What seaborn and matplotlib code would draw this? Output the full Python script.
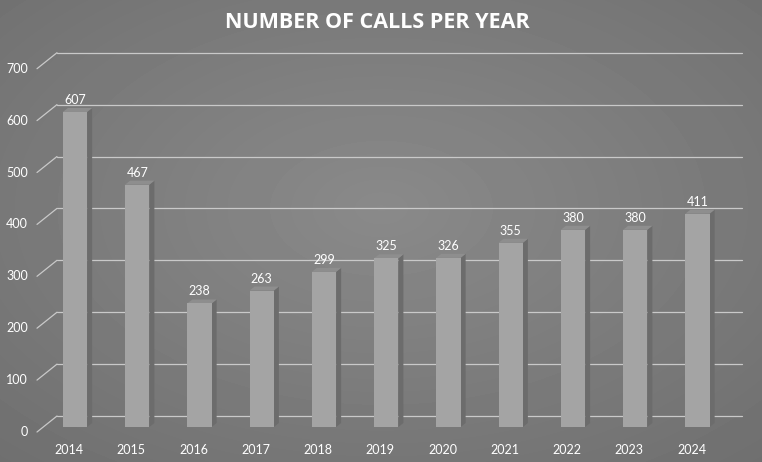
import numpy as np
import pandas as pd
import matplotlib.pyplot as plt
from matplotlib.patches import Polygon
import seaborn as sns

years = ['2014', '2015', '2016', '2017', '2018', '2019', '2020', '2021', '2022', '2023', '2024']
calls = [607, 467, 238, 263, 299, 325, 326, 355, 380, 380, 411]
yticks = [0, 100, 200, 300, 400, 500, 600, 700]
title = 'NUMBER OF CALLS PER YEAR'

sns.set_theme(style='white')
plt.rcParams['font.family'] = ['Lato', 'DejaVu Sans']

W, H = 762, 462
fig = plt.figure(figsize=(W / 100, H / 100), dpi=100)

# background gradient
bg = fig.add_axes([0, 0, 1, 1])
yy, xx = np.mgrid[0:H, 0:W]
r = np.sqrt(((xx - W * 0.5) / W) ** 2 + ((yy - H * 0.45) / H) ** 2)
bg.imshow(0.54 - 0.14 * r, cmap='gray', vmin=0, vmax=1, aspect='auto')
bg.axis('off')

ax = fig.add_axes([0, 0, 1, 1])
ax.patch.set_alpha(0)

# pixel mapping: front plane zero at y=427px, 0.519 px per unit; bar i center at 75 + 62.25*i
ppu = 0.519
sx = 62.25
xlim = (-75 / sx, (W - 75) / sx)
ylim = ((427 - H) / ppu, 427 / ppu)

wall_dy = 11 / ppu
wall_x0 = (57 - 75) / sx
wall_x1 = (742 - 75) / sx
grid_c = '#c9c9c9'
for v in yticks:
    ax.plot([wall_x0, wall_x1], [v + wall_dy, v + wall_dy], color=grid_c, lw=0.9, zorder=1)
    ax.plot([(37 - 75) / sx, wall_x0], [v - 5 / ppu, v + wall_dy], color=grid_c, lw=0.9, zorder=1)
    ax.text((28 - 75) / sx, v - 5 / ppu, str(v), ha='right', va='center',
            color='white', fontsize=9)

df = pd.DataFrame({'year': years, 'calls': calls})
sns.barplot(data=df, x='year', y='calls', ax=ax, color='#a4a4a4', saturation=1,
            width=0.39, edgecolor='none', zorder=3)
ax.set_xlim(*xlim)
ax.set_ylim(*ylim)
ax.axis('off')

dx = 5 / sx
dy = 4 / ppu
for p in ax.patches[:len(calls)]:
    x0 = p.get_x()
    x1 = x0 + p.get_width()
    h = p.get_height()
    side = Polygon([(x1, 0), (x1 + dx, dy), (x1 + dx, h + dy), (x1, h)],
                   closed=True, color='#6c6c6c', zorder=2.9, lw=0)
    top = Polygon([(x0, h), (x0 + dx, h + dy), (x1 + dx, h + dy), (x1, h)],
                  closed=True, color='#8e8e8e', zorder=2.9, lw=0)
    ax.add_patch(side)
    ax.add_patch(top)

for i, v in enumerate(calls):
    ax.text(i, v + 12 / ppu, str(v), ha='center', va='center', color='white', fontsize=9, zorder=5)
    ax.text(i - 6 / sx, (427 - 450) / ppu, years[i], ha='center', va='center',
            color='white', fontsize=9, zorder=5)

fig.text(377 / W, 1 - 22 / H, title, ha='center', va='center', color='white',
         fontsize=15.5, fontweight='bold', family=['Open Sans', 'DejaVu Sans'])

fig.savefig('out.png', dpi=100)
